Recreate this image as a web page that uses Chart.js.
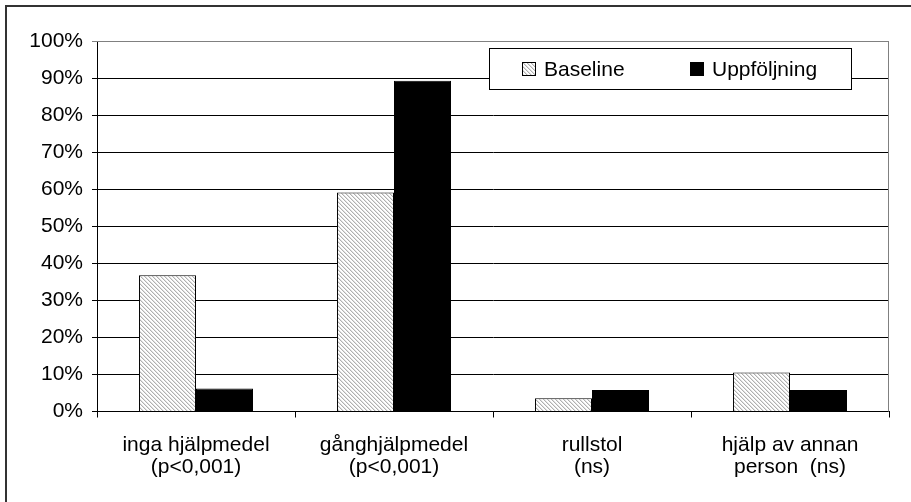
<!DOCTYPE html>
<html>
<head>
<meta charset="utf-8">
<script src="https://cdn.jsdelivr.net/npm/chart.js@4/dist/chart.umd.min.js"></script>
<style>
  html, body { margin: 0; padding: 0; background: #fff; overflow: hidden; }
  #frame { position: absolute; left: 5px; top: 5px; width: 1000px; height: 1000px; border: 2px solid #333; box-sizing: border-box; }
  #wrap { position: absolute; left: 0; top: 0; width: 911px; height: 502px; }
</style>
</head>
<body>
<div id="frame"></div>
<div id="wrap"><canvas id="c" width="911" height="502"></canvas></div>
<script>
// Categories (two-line labels) and the two series, in percent
const categories = [
  ['inga hjälpmedel', '(p<0,001)'],
  ['gånghjälpmedel', '(p<0,001)'],
  ['rullstol', '(ns)'],
  ['hjälp av annan', 'person  (ns)']
];
const seriesNames = ['Baseline', 'Uppföljning'];
const baseline = [36.8, 59.1, 3.6, 10.5];
const followUp = [6.2, 89.3, 5.8, 5.8];
const yTicks = [0, 10, 20, 30, 40, 50, 60, 70, 80, 90, 100];

const FONT = '"Liberation Sans", Arial, sans-serif';

// Fine diagonal hatch used for the baseline bars
function makeHatch() {
  const p = document.createElement('canvas');
  p.width = 4; p.height = 4;
  const g = p.getContext('2d');
  g.fillStyle = '#ffffff';
  g.fillRect(0, 0, 4, 4);
  for (let i = 0; i < 4; i++) {
    g.fillStyle = '#b0b0b0';
    g.fillRect(i, i, 1, 1);
    g.fillStyle = '#e2e2e2';
    g.fillRect((i + 1) % 4, i, 1, 1);
  }
  return document.getElementById('c').getContext('2d').createPattern(p, 'repeat');
}
const hatch = makeHatch();

// Boxed legend inside the plot, plus grey frame on the top and right of the plot
const framePlugin = {
  id: 'frameAndLegend',
  afterDraw(chart) {
    const ctx = chart.ctx;
    const a = chart.chartArea;
    ctx.save();
    ctx.strokeStyle = '#808080';
    ctx.lineWidth = 1;
    ctx.beginPath();
    ctx.moveTo(a.left, a.top + 0.5);
    ctx.lineTo(a.right - 0.5, a.top + 0.5);
    ctx.lineTo(a.right - 0.5, a.bottom);
    ctx.stroke();

    // legend box
    const bx = 489, by = 48, bw = 362, bh = 41;
    ctx.fillStyle = '#fff';
    ctx.fillRect(bx, by, bw, bh);
    ctx.strokeStyle = '#000';
    ctx.strokeRect(bx + 0.5, by + 0.5, bw, bh);

    const items = [
      { x: 522, textX: 544 },
      { x: 690, textX: 712 }
    ];
    ctx.font = '21px ' + FONT;
    ctx.textBaseline = 'middle';
    ctx.textAlign = 'left';
    chart.data.datasets.forEach((ds, i) => {
      const it = items[i];
      ctx.fillStyle = ds.backgroundColor;
      ctx.fillRect(it.x, 62, 14, 14);
      ctx.strokeStyle = '#000';
      ctx.strokeRect(it.x + 0.5, 62.5, 13, 13);
      ctx.fillStyle = '#000';
      ctx.fillText(ds.label, it.textX, 70);
    });
    ctx.restore();
  }
};

new Chart(document.getElementById('c'), {
  type: 'bar',
  data: {
    labels: categories,
    datasets: [
      { label: seriesNames[0], data: baseline, backgroundColor: hatch, borderColor: '#000', borderWidth: 1 },
      { label: seriesNames[1], data: followUp, backgroundColor: '#000', borderColor: '#000', borderWidth: 1 }
    ]
  },
  options: {
    responsive: false,
    animation: false,
    devicePixelRatio: 1,
    layout: { padding: { left: 0, right: 22, top: 41, bottom: 0 } },
    datasets: { bar: { categoryPercentage: 0.576, barPercentage: 1.0 } },
    plugins: {
      legend: { display: false },
      tooltip: { enabled: false }
    },
    scales: {
      x: {
        offset: true,
        grid: { offset: true, drawOnChartArea: false, drawTicks: true, tickLength: 6, color: '#000' },
        border: { color: '#000', width: 1 },
        ticks: {
          color: '#000',
          font: { family: FONT, size: 21, lineHeight: 1.08 },
          padding: 16,
          maxRotation: 0,
          autoSkip: false
        },
        afterFit(scale) { scale.height = 90.5; }
      },
      y: {
        min: 0,
        max: 100,
        afterBuildTicks(scale) { scale.ticks = yTicks.map(v => ({ value: v })); },
        grid: {
          color: ctx => (ctx.tick && ctx.tick.value === 100 ? '#808080' : '#000'),
          tickLength: 5,
          lineWidth: 1
        },
        border: { color: '#000', width: 1 },
        ticks: {
          color: '#000',
          font: { family: FONT, size: 21 },
          padding: 9,
          callback: v => v + '%'
        },
        afterFit(scale) { scale.width = 97; }
      }
    }
  },
  plugins: [framePlugin]
});
</script>
</body>
</html>
